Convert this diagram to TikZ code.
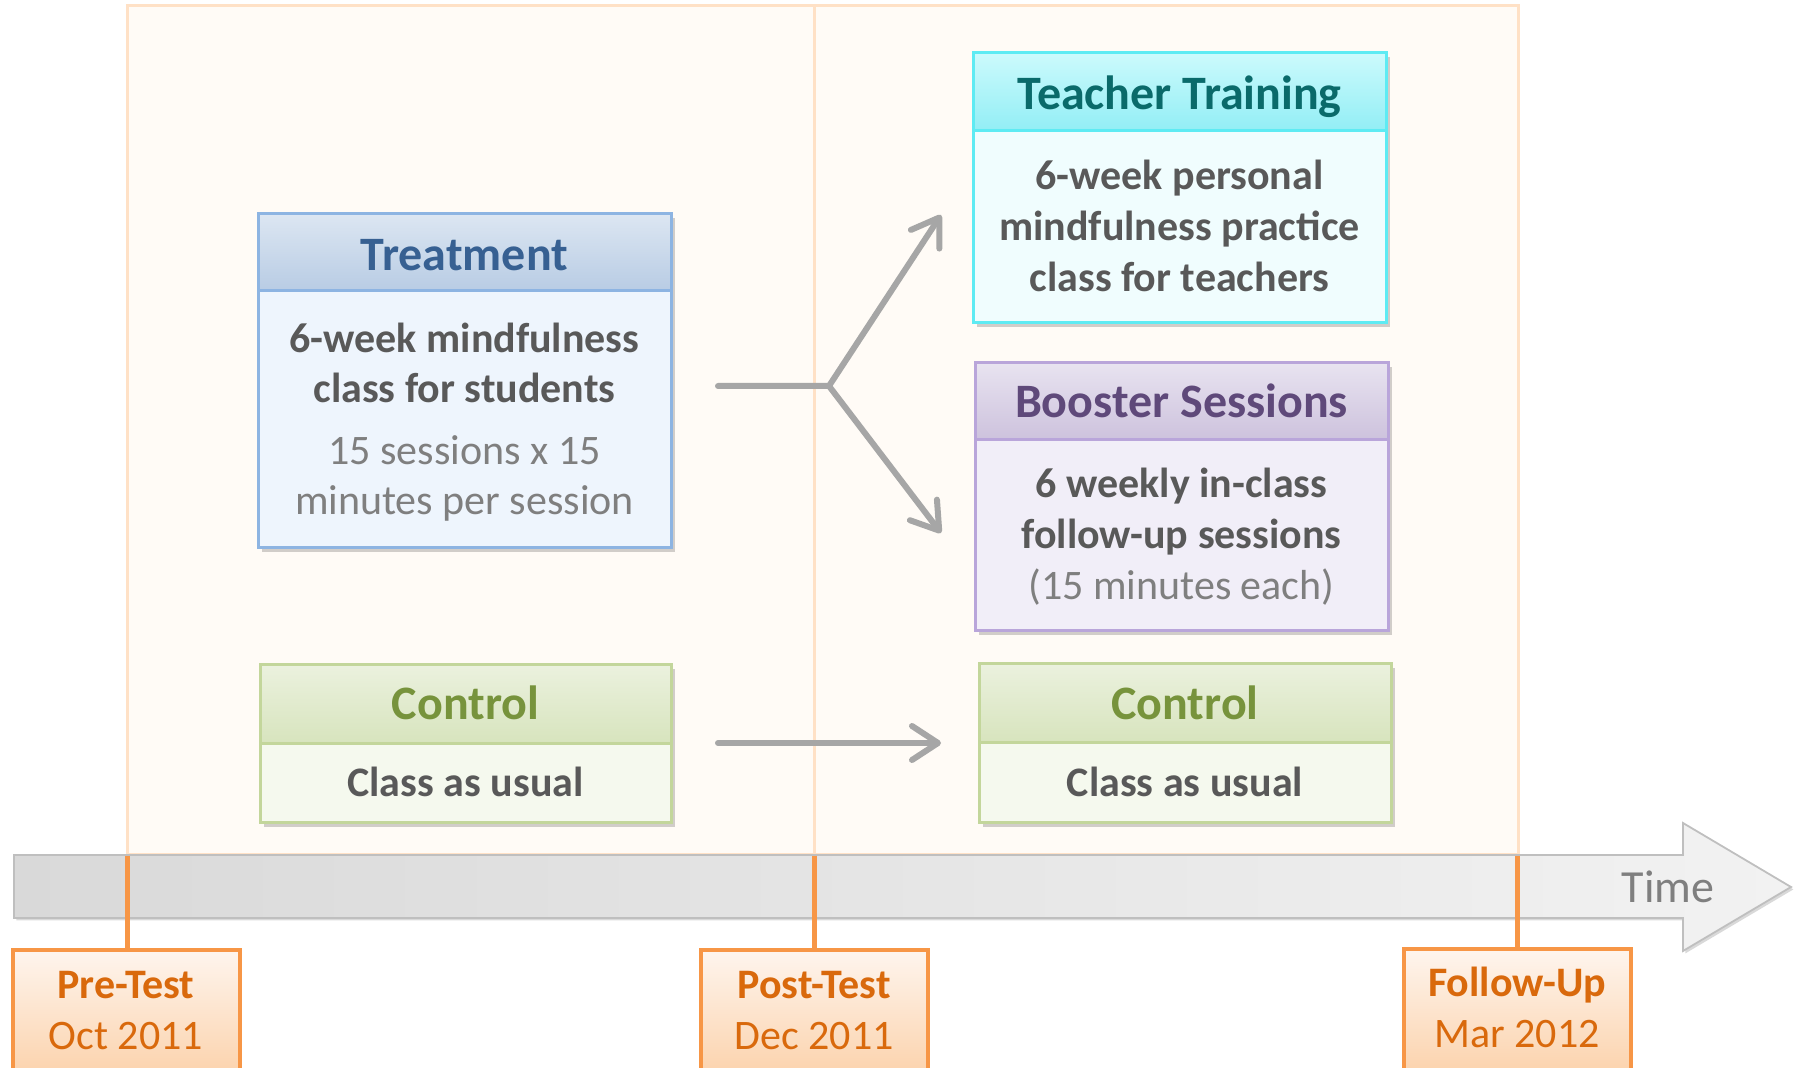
\documentclass[tikz,border=0pt]{standalone}
\usepackage{fontspec}
\setmainfont{Carlito}
\usetikzlibrary{arrows.meta,shadows}
\definecolor{panelfill}{HTML}{FFFBF6}
\definecolor{panelline}{HTML}{FFE1C6}
\definecolor{bodygray}{HTML}{595959}
\definecolor{subgray}{HTML}{7F7F7F}
\definecolor{arrowgray}{HTML}{A6A6A6}
\definecolor{trline}{HTML}{8DB4E2}
\definecolor{trtop}{HTML}{DCE6F2}
\definecolor{trbot}{HTML}{B8CCE4}
\definecolor{trbody}{HTML}{EEF5FD}
\definecolor{trtext}{HTML}{376092}
\definecolor{ttline}{HTML}{5EEBF3}
\definecolor{tttop}{HTML}{CCFAFC}
\definecolor{ttbot}{HTML}{92EEF5}
\definecolor{ttbody}{HTML}{F0FDFE}
\definecolor{tttext}{HTML}{0A6A6A}
\definecolor{bsline}{HTML}{B9A5DA}
\definecolor{bstop}{HTML}{E8E3F0}
\definecolor{bsbot}{HTML}{CDC2DD}
\definecolor{bsbody}{HTML}{F1EEF8}
\definecolor{bstext}{HTML}{5F497A}
\definecolor{ctline}{HTML}{C3D69B}
\definecolor{cttop}{HTML}{EBF1DE}
\definecolor{ctbot}{HTML}{D7E4BD}
\definecolor{ctbody}{HTML}{F5F9EE}
\definecolor{cttext}{HTML}{77933C}
\definecolor{mkline}{HTML}{F79646}
\definecolor{mktop}{HTML}{FEF5EE}
\definecolor{mkbot}{HTML}{FBC99A}
\definecolor{mktext}{HTML}{D9690C}
\definecolor{barleft}{HTML}{D9D9D9}
\definecolor{barright}{HTML}{F2F2F2}
\definecolor{barline}{HTML}{BFBFBF}
\begin{document}
\begin{tikzpicture}[x=0.5pt,y=-0.5pt,
  boxpart/.style={draw, line width=1.5pt, inner sep=0pt},
  boxshadow/.style={inner sep=0pt, draw=none,
    drop shadow={shadow xshift=1.8pt, shadow yshift=-1.8pt, opacity=0.18, fill=black}},
  ttl/.style={anchor=base, inner sep=0pt, font=\fontsize{24}{28}\selectfont\bfseries},
  bd/.style={anchor=base, inner sep=0pt, text=bodygray, font=\fontsize{21}{25}\selectfont\bfseries},
  sub/.style={anchor=base, inner sep=0pt, text=subgray, font=\fontsize{21}{25}\selectfont},
  mkbox/.style={draw=mkline, line width=2pt, top color=mktop, bottom color=mkbot, inner sep=0pt,
    minimum width=113.5pt, minimum height=80pt, anchor=north},
  mkb/.style={anchor=base, inner sep=0pt, text=mktext, font=\fontsize{21}{25}\selectfont\bfseries},
  mkr/.style={anchor=base, inner sep=0pt, text=mktext, font=\fontsize{21}{25}\selectfont},
  tick/.style={draw=mkline, line width=2.5pt},
  arr/.style={draw=arrowgray, line width=3pt, line cap=round, line join=miter,
    -{Straight Barb[length=13pt,width=17pt,round]}}
]
\useasboundingbox (0,0) rectangle (1795,1068);
\clip (0,0) rectangle (1795,1068);

% background panel
\node[draw=panelline, fill=panelfill, line width=1.5pt, inner sep=0pt,
  minimum width=695.5pt, minimum height=424.5pt] (panel) at (822.5,430.5) {};
\coordinate (divtop) at (814,6);
\coordinate (divbot) at (814,855);
\draw[panelline, line width=1.5pt] (divtop) -- (divbot);

% timeline bar
\path[draw=barline, line width=0.9pt, left color=barleft, right color=barright,
  drop shadow={shadow xshift=1.2pt, shadow yshift=-1.2pt, opacity=0.15, fill=black}]
  (14,855) -- (1683,855) -- (1683,823) -- (1791,887) -- (1683,951) -- (1683,918) -- (14,918) -- cycle;
\node[anchor=base, inner sep=0pt, text=subgray, font=\fontsize{23}{27}\selectfont] (time) at (1668,903) {Time};

% markers
\node[mkbox] (pre) at (126,948) {};
\node[mkbox] (post) at (814,948) {};
\node[mkbox] (fol) at (1517,947) {};
\coordinate (pretop) at (127,856);
\coordinate (posttop) at (814,856);
\coordinate (foltop) at (1517,856);
\draw[tick] (pretop) -- (pre.north -| pretop);
\draw[tick] (posttop) -- (post.north -| posttop);
\draw[tick] (foltop) -- (fol.north -| foltop);
\node[mkb] (preA) at (126,999) {Pre-Test};
\node[mkr] (preB) at (126,1050) {Oct 2011};
\node[mkb] (postA) at (814,999) {Post-Test};
\node[mkr] (postB) at (814,1050) {Dec 2011};
\node[mkb] (folA) at (1517,997) {Follow-Up};
\node[mkr] (folB) at (1517,1048) {Mar 2012};

% Treatment
\node[boxshadow, minimum width=206.5pt, minimum height=167pt] (trS) at (464.5,381) {};
\node[boxpart, draw=trline, top color=trtop, bottom color=trbot,
  minimum width=206.5pt, minimum height=38.5pt] (trH) at (464.5,252.5) {};
\node[boxpart, draw=trline, fill=trbody,
  minimum width=206.5pt, minimum height=128.5pt] (trB) at (464.5,419.5) {};
\node[ttl, text=trtext] (trT) at (464.5,271) {Treatment};
\node[bd] (trL1) at (464.5,353) {6-week mindfulness};
\node[bd] (trL2) at (464.5,403) {class for students};
\node[sub] (trL3) at (464.5,465) {15 sessions x 15};
\node[sub] (trL4) at (464.5,515) {minutes per session};

% Teacher Training
\node[boxshadow, minimum width=206.5pt, minimum height=135pt] (ttS) at (1179.5,188) {};
\node[boxpart, draw=ttline, top color=tttop, bottom color=ttbot,
  minimum width=206.5pt, minimum height=39pt] (ttH) at (1179.5,92) {};
\node[boxpart, draw=ttline, fill=ttbody,
  minimum width=206.5pt, minimum height=96pt] (ttB) at (1179.5,227) {};
\node[ttl, text=tttext] (ttT) at (1179.5,110) {Teacher Training};
\node[bd] (ttL1) at (1179.5,190) {6-week personal};
\node[bd] (ttL2) at (1179.5,241) {mindfulness practice};
\node[bd] (ttL3) at (1179.5,292) {class for teachers};

% Booster Sessions
\node[boxshadow, minimum width=206.5pt, minimum height=134pt] (bsS) at (1181.5,497) {};
\node[boxpart, draw=bsline, top color=bstop, bottom color=bsbot,
  minimum width=206.5pt, minimum height=38.5pt] (bsH) at (1181.5,401.5) {};
\node[boxpart, draw=bsline, fill=bsbody,
  minimum width=206.5pt, minimum height=95.5pt] (bsB) at (1181.5,535.5) {};
\node[ttl, text=bstext] (bsT) at (1181.5,418) {Booster Sessions};
\node[bd] (bsL1) at (1181.5,498) {6 weekly in-class};
\node[bd] (bsL2) at (1181.5,549) {follow-up sessions};
\node[sub] (bsL3) at (1181.5,600) {(15 minutes each)};

% Control left
\node[boxshadow, minimum width=205.5pt, minimum height=79pt] (c1S) at (465.5,744) {};
\node[boxpart, draw=ctline, top color=cttop, bottom color=ctbot,
  minimum width=205.5pt, minimum height=39.5pt] (c1H) at (465.5,704.5) {};
\node[boxpart, draw=ctline, fill=ctbody,
  minimum width=205.5pt, minimum height=39.5pt] (c1B) at (465.5,783.5) {};
\node[ttl, text=cttext] (c1T) at (465.5,720) {Control};
\node[bd] (c1L) at (465.5,797) {Class as usual};

% Control right
\node[boxshadow, minimum width=206pt, minimum height=79.5pt] (c2S) at (1185,743.5) {};
\node[boxpart, draw=ctline, top color=cttop, bottom color=ctbot,
  minimum width=206pt, minimum height=39.5pt] (c2H) at (1185,703.5) {};
\node[boxpart, draw=ctline, fill=ctbody,
  minimum width=206pt, minimum height=40pt] (c2B) at (1185,783) {};
\node[ttl, text=cttext] (c2T) at (1185,720) {Control};
\node[bd] (c2L) at (1185,797) {Class as usual};

% arrows
\coordinate (tstart) at (718,386);
\coordinate (tjunc) at (829,386);
\coordinate (ttip) at (941,215);
\coordinate (btip) at (941,533);
\coordinate (cstart) at (718,743);
\coordinate (ctip) at (941,743);
\draw[arr] (tstart) -- (tjunc) -- (ttip);
\draw[arr] (tjunc) -- (btip);
\draw[arr] (cstart) -- (ctip);
\end{tikzpicture}
\end{document}
